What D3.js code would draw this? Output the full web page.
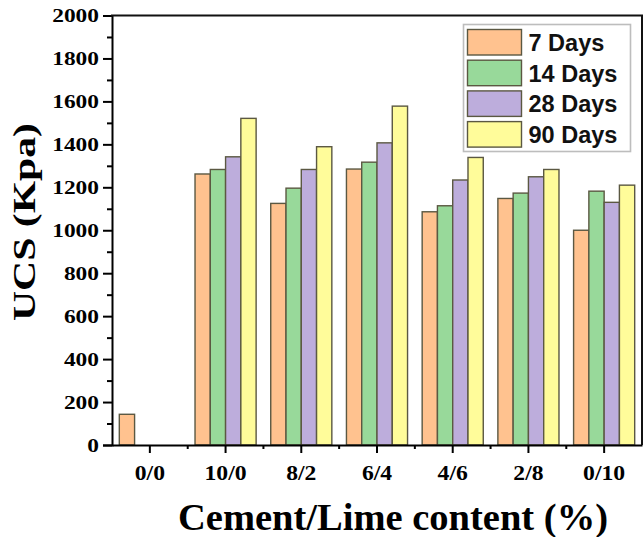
<!DOCTYPE html>
<html>
<head>
<meta charset="utf-8">
<script src="https://cdn.jsdelivr.net/npm/d3@7"></script>
<style>
  html, body { margin: 0; padding: 0; background: #fff; }
  svg { display: block; }
</style>
</head>
<body>
<svg id="chart" width="644" height="537"></svg>
<script>
// Cement/Lime ratios on the x axis
const categories = ["0/0", "10/0", "8/2", "6/4", "4/6", "2/8", "0/10"];
// Curing periods
const seriesNames = ["7 Days", "14 Days", "28 Days", "90 Days"];
// UCS (kPa) per curing period, one value per ratio
const days7  = [143, 1262, 1125, 1285, 1086, 1148, 1000];
const days14 = [0,   1283, 1196, 1317, 1114, 1173, 1182];
const days28 = [0,   1342, 1283, 1407, 1234, 1249, 1130];
const days90 = [0,   1521, 1389, 1578, 1339, 1283, 1210];
const yTicks = [0, 200, 400, 600, 800, 1000, 1200, 1400, 1600, 1800, 2000];

const seriesValues = [days7, days14, days28, days90];
const colors = ["#FFC28F", "#98D99A", "#BDADDC", "#FFFC9A"];
const barStroke = "#5b5842";

const svg = d3.select("#chart");
const plotLeft = 112, plotRight = 642, plotTop = 15.5, plotBottom = 445;

const x0 = d3.scaleBand().domain(categories).range([plotLeft, plotRight])
  .paddingInner(0.193).paddingOuter(0.0965);
const x1 = d3.scaleBand().domain(seriesNames).range([0, x0.bandwidth()]).padding(0);
const y = d3.scaleLinear().domain([0, 2000]).range([plotBottom, plotTop]);

const rows = categories.map((c, i) => ({
  cat: c,
  vals: seriesNames.map((s, k) => ({ s, k, v: seriesValues[k][i] }))
}));

// Bars
const groups = svg.append("g").selectAll("g").data(rows).join("g")
  .attr("transform", d => `translate(${x0(d.cat)},0)`);
groups.selectAll("rect").data(d => d.vals.filter(e => e.v > 0)).join("rect")
  .attr("x", e => x1(e.s))
  .attr("y", e => y(e.v))
  .attr("width", x1.bandwidth())
  .attr("height", e => y(0) - y(e.v))
  .attr("fill", e => colors[e.k])
  .attr("stroke", barStroke)
  .attr("stroke-width", 1.4);

// Stretch text horizontally to a chosen factor
function stretch(sel, factor) {
  sel.each(function () {
    const len = this.getComputedTextLength();
    this.setAttribute("textLength", (len * factor).toFixed(1));
    this.setAttribute("lengthAdjust", "spacingAndGlyphs");
  });
}

const serif = "'Liberation Serif', 'Times New Roman', serif";

// Y axis: major ticks with labels, minor ticks between
const yAxis = svg.append("g").attr("transform", `translate(${plotLeft},0)`)
  .call(d3.axisLeft(y).tickValues(yTicks).tickSize(9).tickPadding(4).tickFormat(d3.format("d")));
const yMinor = svg.append("g").attr("transform", `translate(${plotLeft},0)`)
  .call(d3.axisLeft(y).tickValues(d3.range(100, 2000, 200)).tickSize(5).tickFormat(""));
yMinor.select(".domain").remove();

// X axis: ticks at categories, minor ticks at category boundaries
const xAxis = svg.append("g").attr("transform", `translate(0,${plotBottom})`)
  .call(d3.axisBottom(x0).tickSize(8).tickPadding(12).tickSizeOuter(0));
const boundaries = categories.slice(1).map(c => x0(c) - x0.step() * x0.paddingInner() / 2);
svg.append("g").selectAll("line").data(boundaries).join("line")
  .attr("x1", d => d).attr("x2", d => d)
  .attr("y1", plotBottom).attr("y2", plotBottom + 4)
  .attr("stroke", "#000").attr("stroke-width", 2);

[yAxis, yMinor, xAxis].forEach(g => {
  g.selectAll(".domain").attr("stroke", "#000").attr("stroke-width", 2);
  g.selectAll(".tick line").attr("stroke", "#000").attr("stroke-width", 2);
});

yAxis.selectAll("text")
  .attr("font-family", serif).attr("font-weight", "bold").attr("font-size", 19.5).attr("fill", "#000");
stretch(yAxis.selectAll("text"), 1.2);

xAxis.selectAll("text")
  .attr("font-family", serif).attr("font-weight", "bold").attr("font-size", 21.5).attr("fill", "#000");
stretch(xAxis.selectAll("text"), 1.1);

// Frame: top and right edges
svg.append("line").attr("x1", plotLeft - 1).attr("x2", plotRight + 1).attr("y1", plotTop).attr("y2", plotTop)
  .attr("stroke", "#111").attr("stroke-width", 2.2);
svg.append("line").attr("x1", plotRight).attr("x2", plotRight).attr("y1", plotTop).attr("y2", plotBottom)
  .attr("stroke", "#111").attr("stroke-width", 2);

// Axis titles
svg.append("text")
  .attr("transform", `translate(35,222) rotate(-90)`)
  .attr("text-anchor", "middle")
  .attr("font-family", serif).attr("font-weight", "bold").attr("font-size", 32).attr("fill", "#000")
  .attr("textLength", 198).attr("lengthAdjust", "spacingAndGlyphs")
  .text("UCS (Kpa)");

svg.append("text")
  .attr("x", 393).attr("y", 530)
  .attr("text-anchor", "middle")
  .attr("font-family", serif).attr("font-weight", "bold").attr("font-size", 37).attr("fill", "#000")
  .attr("textLength", 430).attr("lengthAdjust", "spacingAndGlyphs")
  .text("Cement/Lime content (%)");

// Legend
const legend = svg.append("g");
legend.append("rect")
  .attr("x", 463.5).attr("y", 24.5).attr("width", 167).attr("height", 127)
  .attr("fill", "#fff").attr("stroke", "#bdbdbd").attr("stroke-width", 1.6);
const items = legend.selectAll("g.item").data(seriesNames).join("g")
  .attr("class", "item")
  .attr("transform", (d, i) => `translate(467.5,${29.5 + i * 30.7})`);
items.append("rect")
  .attr("width", 54).attr("height", 25.5)
  .attr("fill", (d, i) => colors[i]).attr("stroke", barStroke).attr("stroke-width", 1.4);
items.append("text")
  .attr("x", 61).attr("y", 21.5)
  .attr("font-family", "'Liberation Sans', Arial, sans-serif")
  .attr("font-weight", "bold").attr("font-size", 23.5).attr("fill", "#111")
  .text(d => d);
</script>
</body>
</html>
